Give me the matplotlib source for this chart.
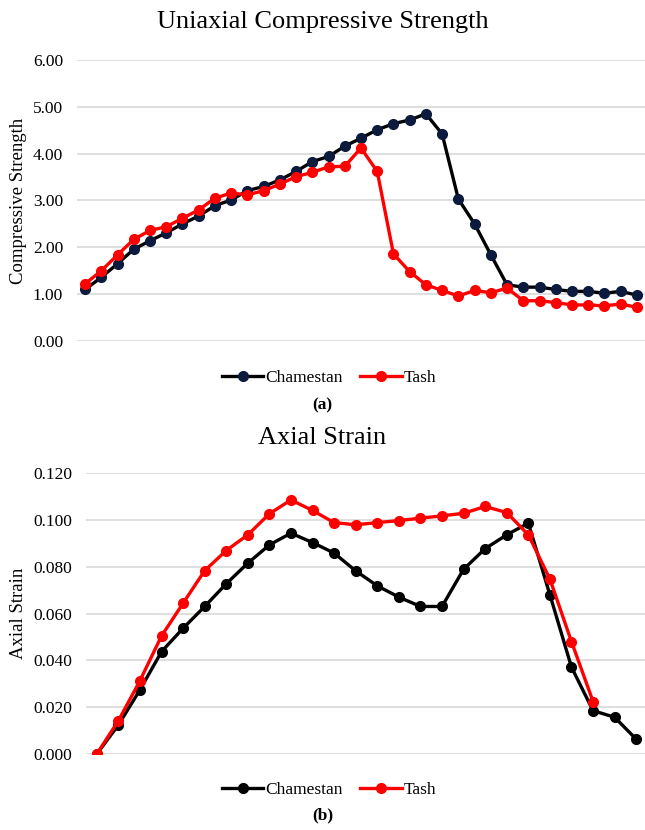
import matplotlib
matplotlib.use("Agg")
import matplotlib.pyplot as plt
import numpy as np

plt.rcParams['font.family'] = ['Liberation Serif', 'DejaVu Serif']

ucs_chamestan = [1.10, 1.36, 1.65, 1.96, 2.14, 2.31, 2.50, 2.67, 2.89, 3.01,
                 3.21, 3.30, 3.44, 3.62, 3.83, 3.94, 4.16, 4.33, 4.51, 4.64,
                 4.72, 4.85, 4.42, 3.03, 2.50, 1.84, 1.20, 1.15, 1.15, 1.10,
                 1.06, 1.06, 1.02, 1.06, 0.98]
ucs_tash = [1.22, 1.50, 1.84, 2.17, 2.36, 2.44, 2.62, 2.80, 3.05, 3.16,
            3.12, 3.21, 3.35, 3.51, 3.60, 3.72, 3.73, 4.12, 3.62, 1.86,
            1.48, 1.20, 1.08, 0.96, 1.08, 1.03, 1.13, 0.86, 0.86, 0.82,
            0.77, 0.77, 0.75, 0.79, 0.72]

strain_chamestan = [0.0, 0.0124, 0.0274, 0.0437, 0.0537, 0.0630, 0.0727, 0.0815,
                    0.0893, 0.0943, 0.0903, 0.0858, 0.0782, 0.0718, 0.0670, 0.0630,
                    0.0630, 0.0789, 0.0877, 0.0936, 0.0986, 0.0680, 0.0371, 0.0185,
                    0.0157, 0.0063]
strain_tash = [0.0, 0.0142, 0.0313, 0.0504, 0.0644, 0.0783, 0.0869, 0.0936,
               0.1026, 0.1085, 0.1040, 0.0988, 0.0979, 0.0988, 0.0997, 0.1007,
               0.1017, 0.1028, 0.1057, 0.1031, 0.0936, 0.0747, 0.0480, 0.0224]

series_names = ["Chamestan", "Tash"]
titles = ["Uniaxial Compressive Strength", "Axial Strain"]
ylabels = ["Compressive Strength", "Axial Strain"]
panel_labels = ["(a)", "(b)"]

W, H = 645, 830
fig = plt.figure(figsize=(W/100, H/100), dpi=100)

def ax_rect(x0, y0, x1, y1):
    return [x0/W, 1 - y1/H, (x1-x0)/W, (y1-y0)/H]

grid_c = '#d9d9d9'

# Panel (a)
ax1 = fig.add_axes(ax_rect(77, 60, 645, 341))
n1 = len(ucs_chamestan)
x1 = np.arange(n1)
ax1.plot(x1, ucs_chamestan, color='black', lw=2.4, marker='o', ms=7,
         mfc='#0b1a3d', mec='#0b1a3d', label=series_names[0], zorder=3)
ax1.plot(np.arange(len(ucs_tash)), ucs_tash, color='#ff0000', lw=2.4, marker='o', ms=7,
         mfc='#ff0000', mec='#ff0000', label=series_names[1], zorder=4)
ax1.set_xlim(-0.5, n1 - 0.5)
ax1.set_ylim(0, 6)
ax1.set_yticks(np.arange(0, 6.01, 1.0))
ax1.set_yticklabels([f"{v:.2f}" for v in np.arange(0, 6.01, 1.0)])

# Panel (b)
ax2 = fig.add_axes(ax_rect(86, 473, 647, 754))
n2 = len(strain_chamestan)
ax2.plot(np.arange(n2), strain_chamestan, color='black', lw=2.4, marker='o', ms=7,
         mfc='black', mec='black', label=series_names[0], zorder=3)
ax2.plot(np.arange(len(strain_tash)), strain_tash, color='#ff0000', lw=2.4, marker='o', ms=7,
         mfc='#ff0000', mec='#ff0000', label=series_names[1], zorder=4)
ax2.set_xlim(-0.5, n2 - 0.5)
ax2.set_ylim(0, 0.12)
yt = np.arange(0, 0.1201, 0.02)
ax2.set_yticks(yt)
ax2.set_yticklabels([f"{v:.3f}" for v in yt])

for ax, title, yl, pl, ycap_legend, ycap_label, ytitle in [
        (ax1, titles[0], ylabels[0], panel_labels[0], 378, 405, 22),
        (ax2, titles[1], ylabels[1], panel_labels[1], 790, 815, 438)]:
    for s in ax.spines.values():
        s.set_visible(False)
    ax.set_xticks([])
    ax.tick_params(axis='y', length=0, labelsize=12.5, pad=10)
    ax.grid(axis='y', color=grid_c, lw=1.2)
    ax.set_axisbelow(True)
    ax.set_ylabel(yl, fontsize=13.5)
    fig.text(0.5, 1 - ytitle/H, title, ha='center', va='center', fontsize=19)
    leg = fig.legend(handles=ax.get_lines(), loc='center', ncol=2,
                     bbox_to_anchor=(0.51, 1 - ycap_legend/H), frameon=False,
                     fontsize=12.5, handlelength=2.4, columnspacing=1.0,
                     handletextpad=0.1)
    fig.text(0.5, 1 - ycap_label/H, pl, ha='center', va='center',
             fontsize=12.5, fontweight='bold')

ax1.yaxis.set_label_coords((27 - 77) / 568, 0.5)
ax2.yaxis.set_label_coords((27 - 86) / 561, 0.5)

fig.savefig("out.png", dpi=100)
